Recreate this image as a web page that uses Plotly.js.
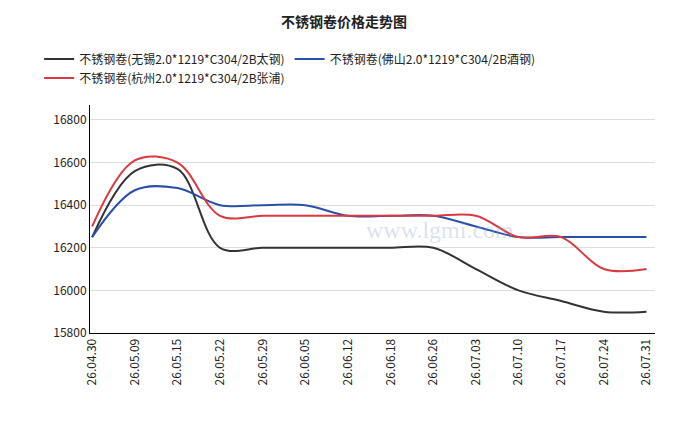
<!DOCTYPE html>
<html><head><meta charset="utf-8">
<script src="https://cdn.plot.ly/plotly-3.0.1.min.js"></script>
<style>body{margin:0;background:#fff}#c{width:688px;height:438px}</style>
</head><body><div id="c"></div>
<script>
const dates = ['26.04.30','26.05.09','26.05.15','26.05.22','26.05.29','26.06.05','26.06.12','26.06.18','26.06.26','26.07.03','26.07.10','26.07.17','26.07.24','26.07.31'];
const wuxi = [16250,16560,16570,16200,16200,16200,16200,16200,16200,16100,16000,15950,15900,15900];
const foshan = [16250,16470,16480,16400,16400,16400,16350,16350,16350,16300,16250,16250,16250,16250];
const hangzhou = [16300,16610,16600,16350,16350,16350,16350,16350,16350,16350,16250,16250,16100,16100];
const names = ['不锈钢卷(无锡2.0*1219*C304/2B太钢)','不锈钢卷(佛山2.0*1219*C304/2B酒钢)','不锈钢卷(杭州2.0*1219*C304/2B张浦)'];

function line(y, name, color) {
  return {x: dates, y, name, type: 'scatter', mode: 'lines',
    line: {color, width: 2, shape: 'spline', smoothing: 1}};
}
const data = [line(wuxi, names[0], '#333333'), line(foshan, names[1], '#2a4fa8'), line(hangzhou, names[2], '#d9393f')];

const layout = {
  width: 688, height: 438,
  font: {family: 'Noto Sans CJK SC, sans-serif', size: 12, color: '#222'},
  title: {text: '<b>不锈钢卷价格走势图</b>', x: 0.5, y: 0.96, font: {size: 14}},
  margin: {l: 90, r: 33, t: 105, b: 105},
  showlegend: true,
  legend: {orientation: 'h', x: -0.09, y: 1.265, font: {size: 12}, traceorder: 'normal'},
  xaxis: {tickangle: -90, showgrid: false, showline: true, linecolor: '#000', ticks: '', range: [-0.05, 13.2]},
  yaxis: {range: [15800, 16870], dtick: 200, tickformat: 'd', showgrid: true, gridcolor: '#ddd', showline: true, linecolor: '#000', ticks: '', zeroline: false},
  annotations: [{text: 'www.lgmi.com', x: 0.62, y: 0.45, xref: 'paper', yref: 'paper', showarrow: false,
    font: {size: 24, color: 'rgba(150,170,200,0.35)', family: 'Liberation Serif'}}]
};
Plotly.newPlot('c', data, layout, {displayModeBar: false});
</script></body></html>
